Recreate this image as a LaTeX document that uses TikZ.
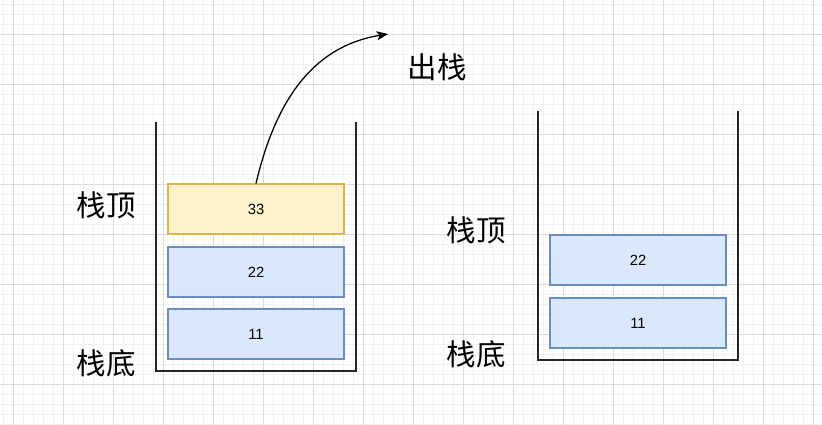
\documentclass[tikz,border=0pt]{standalone}
\usepackage{fontspec}
\setmainfont{Liberation Sans}
\newfontfamily\cjk{Noto Sans CJK SC}
\usepackage{tikz}
\usetikzlibrary{positioning,arrows.meta}

\definecolor{gridminor}{HTML}{F1F1F1}
\definecolor{gridmajor}{HTML}{DCDCDC}
\definecolor{topfill}{HTML}{FFF2CC}
\definecolor{topline}{HTML}{D6B656}
\definecolor{elemfill}{HTML}{DAE8FC}
\definecolor{elemline}{HTML}{6C8EBF}

\tikzset{
  elem/.style={draw=elemline,fill=elemfill,line width=0.8pt,minimum width=4.4cm,minimum height=1.25cm,inner sep=0pt,font=\fontsize{10.5}{12}\selectfont},
  topelem/.style={elem,draw=topline,fill=topfill},
  tag/.style={font=\cjk\fontsize{21}{24}\selectfont,inner sep=0pt},
  wall/.style={line width=0.9pt,black!85}
}

\begin{document}
\begin{tikzpicture}[x=0.025cm,y=-0.025cm,>={Stealth[length=8pt,width=6.5pt,inset=2pt]}]
    \useasboundingbox (0,0) rectangle (822,425);
    % background grid
    \foreach \gx in {3,13,...,813} \draw[gridminor,line width=0.5pt] (\gx,0) -- (\gx,425);
    \foreach \gy in {4,14,...,424} \draw[gridminor,line width=0.5pt] (0,\gy) -- (822,\gy);
    \foreach \gx in {13,63,...,813} \draw[gridmajor,line width=0.6pt] (\gx,0) -- (\gx,425);
    \foreach \gy in {34,84,...,384} \draw[gridmajor,line width=0.6pt] (0,\gy) -- (822,\gy);

    % left stack
    \draw[wall] (156,122) -- (156,371) -- (356,371) -- (356,122);
    \node[topelem] (l33) at (256,209) {33};
    \node[elem] (l22) at (256,272) {22};
    \node[elem] (l11) at (256,334) {11};
    \node[tag] (ltop) at (106,205) {栈顶};
    \node[tag] (lbot) at (106,363) {栈底};

    % pop
    \coordinate (popend) at (388,34);
    \draw[->,line width=0.9pt] (l33.north) .. controls (278,90) and (320,45) .. (popend);
    \node[tag] (pop) at (437,67) {出栈};

    % right stack
    \draw[wall] (538,111) -- (538,360) -- (738,360) -- (738,111);
    \node[elem] (r22) at (638,260) {22};
    \node[elem] (r11) at (638,323) {11};
    \node[tag] (rtop) at (476,230) {栈顶};
    \node[tag] (rbot) at (476,354) {栈底};
  \end{tikzpicture}
\end{document}
